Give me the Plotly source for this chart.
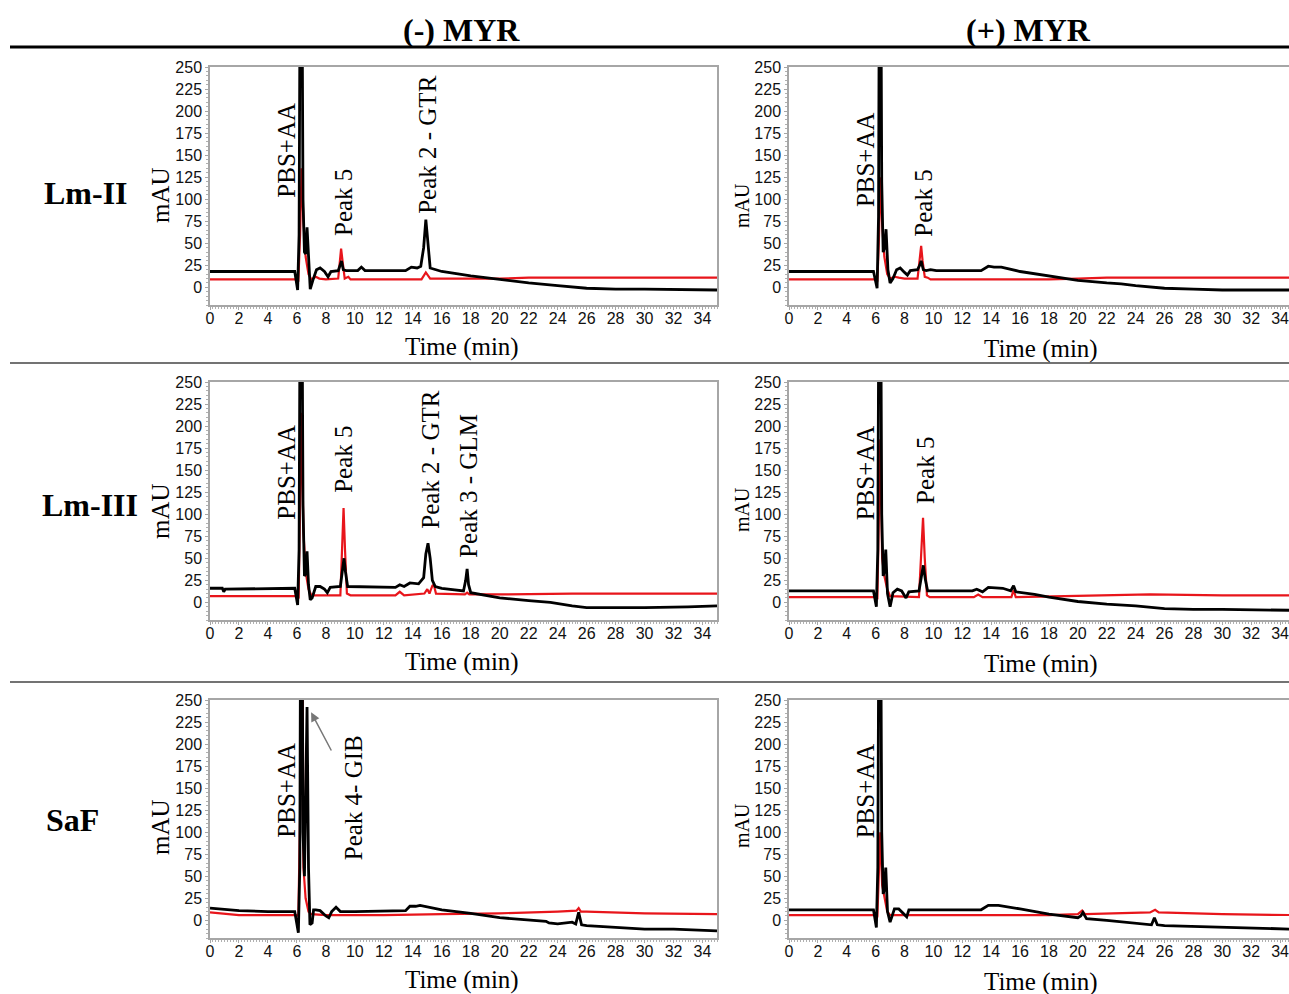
import plotly.graph_objects as go

# ---------------- data (time in min, absorbance in mAU) ----------------
# Lm-II, (-) MYR
t_lm2_neg_k = [0, 5.85, 6.05, 6.15, 6.28, 6.42, 6.52, 6.6, 6.7, 6.8, 6.92, 7.1, 7.35, 7.6, 7.9, 8.15, 8.35, 8.85, 8.98, 9.08, 9.2, 9.4, 10.2, 10.45, 10.7, 13.5, 13.9, 14.3, 14.55, 14.75, 14.9, 15.05, 15.2, 15.6, 16, 18, 20, 22, 24, 26, 28, 30, 35]
y_lm2_neg_k = [18, 18, -3, 60, 600, 100, 40, 38, 68, 30, -2, 8, 20, 22, 18, 12, 18, 19, 25, 30, 20, 19, 19, 23, 19, 19, 23, 22, 24, 45, 77, 45, 22, 20, 18, 13, 9, 5, 2, -1, -2, -2, -3]
t_lm2_neg_r = [0, 5.9, 6.1, 6.22, 6.32, 6.45, 6.6, 6.8, 7.0, 7.3, 7.55, 8.0, 8.85, 8.98, 9.05, 9.15, 9.3, 9.55, 9.7, 9.9, 14.6, 14.9, 15.2, 18, 20, 22, 26, 30, 35]
y_lm2_neg_r = [9, 9, 8, 60, 135, 75, 35, 15, 9, 12, 10, 9, 10, 30, 44, 30, 10, 12, 9, 9, 9, 17, 10, 10, 10, 11, 11, 11, 11]

# Lm-II, (+) MYR
t_lm2_pos_k = [0, 5.85, 6.1, 6.2, 6.3, 6.42, 6.52, 6.62, 6.72, 6.85, 7.0, 7.2, 7.45, 7.7, 8.0, 8.2, 8.4, 8.9, 9.05, 9.15, 9.3, 9.5, 9.8, 10.2, 13.3, 13.8, 14.2, 14.7, 16, 18, 20, 22, 23, 24, 26, 28, 30, 35]
y_lm2_pos_k = [18, 18, -1, 80, 600, 120, 40, 45, 66, 20, 5, 10, 20, 22, 17, 14, 19, 20, 25, 30, 20, 19, 20, 19, 19, 24, 23, 23, 18, 13, 8, 5, 4, 2, -1, -2, -3, -3]
t_lm2_pos_r = [0, 5.95, 6.12, 6.22, 6.32, 6.45, 6.6, 6.8, 7.0, 7.3, 7.6, 8.0, 8.9, 9.05, 9.15, 9.25, 9.4, 9.6, 9.8, 12, 18, 20, 22, 26, 30, 35]
y_lm2_pos_r = [9, 9, 8, 50, 125, 72, 35, 15, 10, 12, 11, 10, 10, 32, 47, 30, 12, 11, 9, 9, 9, 10, 11, 11, 11, 11]

# Lm-III, (-) MYR
t_lm3_neg_k = [0, 0.85, 0.95, 1.05, 5.85, 6.05, 6.15, 6.28, 6.42, 6.52, 6.6, 6.7, 6.8, 6.92, 7.05, 7.3, 7.6, 7.9, 8.1, 8.3, 9.0, 9.15, 9.25, 9.35, 9.5, 12.8, 13.1, 13.4, 13.8, 14.4, 14.75, 14.9, 15.05, 15.2, 15.35, 15.55, 16, 17.5, 17.65, 17.75, 17.85, 18, 20, 22, 23.5, 25, 26, 28, 30, 33, 35]
y_lm3_neg_k = [16, 16, 12, 15, 16, -3, 60, 600, 110, 30, 32, 58, 20, 3, 5, 18, 18, 15, 11, 17, 18, 35, 50, 35, 18, 17, 20, 18, 22, 21, 28, 55, 67, 50, 25, 18, 16, 13, 25, 38, 20, 11, 5, 2, 0, -4, -6, -6, -6, -5, -4]
t_lm3_neg_r = [0, 5.95, 6.12, 6.22, 6.32, 6.45, 6.6, 6.8, 7.0, 9.0, 9.12, 9.22, 9.32, 9.45, 9.7, 12.8, 13.1, 13.4, 14.8, 15.0, 15.15, 15.35, 15.45, 15.6, 17.6, 17.75, 17.9, 20, 25, 30, 35]
y_lm3_neg_r = [7, 7, 6, 120, 215, 80, 35, 15, 8, 8, 60, 107, 60, 10, 8, 8, 12, 8, 10, 15, 10, 19, 20, 10, 9, 11, 9, 9, 10, 10, 10]

# Lm-III, (+) MYR
t_lm3_pos_k = [0, 5.85, 6.05, 6.15, 6.28, 6.42, 6.52, 6.6, 6.7, 6.82, 7.0, 7.2, 7.5, 7.8, 8.1, 8.3, 9.0, 9.15, 9.3, 9.45, 9.6, 12.7, 13.0, 13.4, 13.8, 14.8, 15.35, 15.55, 15.7, 17, 18, 20, 22, 24, 26, 28, 30, 35]
y_lm3_pos_k = [13, 13, -5, 60, 600, 100, 30, 35, 60, 10, -5, 11, 15, 13, 5, 12, 13, 30, 42, 25, 13, 13, 15, 12, 17, 16, 13, 19, 12, 9, 6, 1, -2, -4, -7, -8, -8, -9]
t_lm3_pos_r = [0, 5.95, 6.12, 6.22, 6.32, 6.45, 6.6, 6.8, 7.0, 9.0, 9.15, 9.28, 9.4, 9.55, 9.75, 12.8, 13.1, 13.4, 15.4, 15.55, 15.7, 20, 25, 30, 35]
y_lm3_pos_r = [6, 6, 5, 100, 185, 50, 30, 15, 7, 6, 50, 96, 50, 8, 6, 6, 9, 6, 6, 14, 6, 7, 9, 8, 8]

# SaF, (-) MYR
t_saf_neg_k = [0, 2, 4, 5.85, 6.1, 6.2, 6.3, 6.42, 6.52, 6.62, 6.7, 6.8, 6.9, 7.05, 7.15, 7.3, 7.6, 8.0, 8.2, 8.4, 8.7, 9.0, 10, 13.5, 13.8, 14.2, 14.5, 16, 18, 20, 22, 23.2, 23.4, 24, 25, 25.25, 25.45, 25.65, 26, 28, 30, 32, 35]
y_saf_neg_k = [14, 11, 10, 10, -14, 60, 600, 100, 50, 200, 242, 60, -5, -3, 12, 12, 11, 5, 3, 10, 15, 10, 10, 11, 16, 16, 17, 12, 8, 3, 1, -1, -3, -4, -2, -4, 9, -5, -6, -8, -10, -10, -12]
t_saf_neg_r = [0, 2, 5.95, 6.1, 6.22, 6.32, 6.45, 6.6, 6.8, 7.0, 8, 12, 16, 20, 24, 25.3, 25.45, 25.6, 26, 28, 30, 35]
y_saf_neg_r = [9, 6, 6, 5, 120, 600, 60, 25, 10, 7, 6, 6, 7, 8, 10, 11, 14, 10, 10, 9, 8, 7]

# SaF, (+) MYR
t_saf_pos_k = [0, 5.85, 6.05, 6.15, 6.28, 6.42, 6.52, 6.6, 6.7, 6.82, 7.0, 7.3, 7.6, 8.0, 8.15, 8.3, 10, 13.3, 13.8, 14.5, 16, 18, 20, 20.2, 20.35, 20.6, 22, 24, 25.1, 25.3, 25.5, 26, 28, 32, 35]
y_saf_pos_k = [12, 12, -8, 60, 600, 100, 30, 35, 60, 10, -2, 13, 13, 7, 4, 12, 12, 12, 17, 17, 13, 7, 3, 5, 9, 2, 0, -3, -5, 3, -5, -6, -7, -9, -10]
t_saf_pos_r = [0, 5.95, 6.12, 6.22, 6.32, 6.45, 6.6, 6.8, 7.0, 14, 18, 20, 20.3, 20.5, 25, 25.35, 25.6, 30, 35]
y_saf_pos_r = [6, 6, 5, 60, 100, 40, 25, 10, 6, 6, 6, 7, 11, 7, 9, 12, 9, 7, 6]

# labels
col_titles = ["(-) MYR", "(+) MYR"]
row_titles = ["Lm-II", "Lm-III", "SaF"]
# peak labels per panel: (text, time, mAU)
peak_labels = {
    1: [("PBS+AA", 5.3, 156), ("Peak 5", 9.2, 96), ("Peak 2 - GTR", 15.0, 162)],
    2: [("PBS+AA", 5.3, 145), ("Peak 5", 9.35, 95)],
    3: [("PBS+AA", 5.3, 148), ("Peak 5", 9.2, 162), ("Peak 2 - GTR", 15.2, 162), ("Peak 3 - GLM", 17.8, 132)],
    4: [("PBS+AA", 5.3, 147), ("Peak 5", 9.4, 150)],
    5: [("PBS+AA", 5.3, 148), ("Peak 4- GIB", 9.9, 139)],
    6: [("PBS+AA", 5.3, 147)],
}

panels = {
    1: (t_lm2_neg_k, y_lm2_neg_k, t_lm2_neg_r, y_lm2_neg_r),
    2: (t_lm2_pos_k, y_lm2_pos_k, t_lm2_pos_r, y_lm2_pos_r),
    3: (t_lm3_neg_k, y_lm3_neg_k, t_lm3_neg_r, y_lm3_neg_r),
    4: (t_lm3_pos_k, y_lm3_pos_k, t_lm3_pos_r, y_lm3_pos_r),
    5: (t_saf_neg_k, y_saf_neg_k, t_saf_neg_r, y_saf_neg_r),
    6: (t_saf_pos_k, y_saf_pos_k, t_saf_pos_r, y_saf_pos_r),
}

W, H = 1289, 994
SERIF = "Liberation Serif, Times New Roman, serif"
SANS = "Liberation Sans, Arial, sans-serif"

def px_x(p):
    return p / W

def px_y(p):
    return 1 - p / H

x_domains = {0: [px_x(210), px_x(717)], 1: [px_x(789), 1.0]}
x_ranges = {0: [0, 35], 1: [0, 34.62]}
y_domains = {0: [px_y(305), px_y(67)], 1: [px_y(620), px_y(382)], 2: [px_y(938), px_y(700)]}

fig = go.Figure()
layout = {}
annotations = []

for i in range(1, 7):
    r = (i - 1) // 2
    c = (i - 1) % 2
    xa = "x" if i == 1 else f"x{i}"
    ya = "y" if i == 1 else f"y{i}"
    tk, yk, tr, yr = panels[i]
    fig.add_trace(go.Scatter(x=tr, y=yr, mode="lines", line=dict(color="#e8151b", width=2.2),
                             xaxis=xa, yaxis=ya, showlegend=False))
    fig.add_trace(go.Scatter(x=tk, y=yk, mode="lines", line=dict(color="#000000", width=2.8),
                             xaxis=xa, yaxis=ya, showlegend=False))
    axis_common = dict(showline=True, mirror=True, linecolor="#a6a6a6", linewidth=1.5,
                       showgrid=False, zeroline=False, ticks="outside", ticklen=3,
                       tickcolor="#a6a6a6", tickfont=dict(family=SANS, size=16, color="#111"),
                       automargin=False, ticklabeloverflow="allow")
    layout["xaxis" if i == 1 else f"xaxis{i}"] = dict(
        domain=x_domains[c], range=x_ranges[c], anchor=ya, tick0=0, dtick=2,
        ticklabelstandoff=-5,
        minor=dict(dtick=0.2, ticks="outside", ticklen=2, tickcolor="#b0b0b0"),
        **axis_common)
    layout["yaxis" if i == 1 else f"yaxis{i}"] = dict(
        domain=y_domains[r], range=[-20, 250], anchor=xa, tick0=0, dtick=25,
        minor=dict(dtick=5, ticks="outside", ticklen=2, tickcolor="#b0b0b0"),
        **axis_common)
    for (txt, tx, ty) in peak_labels[i]:
        annotations.append(dict(text=txt, x=tx, y=ty, xref=xa, yref=ya, showarrow=False,
                                xanchor="center", yanchor="middle",
                                textangle=-90, font=dict(family=SERIF, size=25, color="#000")))

# arrow for Peak 4
annotations.append(dict(text="", x=6.98, y=236, xref="x5", yref="y5", ax=8.43, ay=191,
                        axref="x5", ayref="y5", showarrow=True, arrowhead=2, arrowsize=1.2,
                        arrowwidth=1.5, arrowcolor="#777777"))

def paper_text(txt, xc, yc, size, angle=0):
    return dict(text=txt, x=px_x(xc), y=px_y(yc), xref="paper", yref="paper",
                xanchor="center", yanchor="middle", showarrow=False, textangle=angle,
                font=dict(family=SERIF, size=size, color="#000"))

# column headers
for txt, xc in zip(col_titles, [461, 1028]):
    annotations.append(paper_text(f"<b>{txt}</b>", xc, 30, 32))
# row headers
for txt, (xc, yc) in zip(row_titles, [(86, 193), (90, 505), (72, 820)]):
    annotations.append(paper_text(f"<b>{txt}</b>", xc, yc, 32))
# axis titles
for yc in [195, 511, 827]:
    annotations.append(paper_text("mAU", 160, yc, 25, -90))
for yc in [206, 510, 826]:
    annotations.append(paper_text("mAU", 742, yc, 20, -90))
for yc in [347, 662, 980]:
    annotations.append(paper_text("Time (min)", 462, yc, 25))
for yc in [349, 664, 982]:
    annotations.append(paper_text("Time (min)", 1041, yc, 25))

shapes = [
    dict(type="line", xref="paper", yref="paper", x0=px_x(10), x1=1, y0=px_y(47), y1=px_y(47),
         line=dict(color="#000", width=3)),
    dict(type="line", xref="paper", yref="paper", x0=px_x(10), x1=1, y0=px_y(363), y1=px_y(363),
         line=dict(color="#444", width=1.5)),
    dict(type="line", xref="paper", yref="paper", x0=px_x(10), x1=1, y0=px_y(682), y1=px_y(682),
         line=dict(color="#444", width=1.5)),
]

fig.update_layout(width=W, height=H, margin=dict(l=0, r=0, t=0, b=0, autoexpand=False),
                  paper_bgcolor="white", plot_bgcolor="white",
                  annotations=annotations, shapes=shapes, **layout)

fig.write_html("out.html", config={"displayModeBar": False},
               post_script="document.body.style.margin='0';document.body.style.overflow='hidden';")
